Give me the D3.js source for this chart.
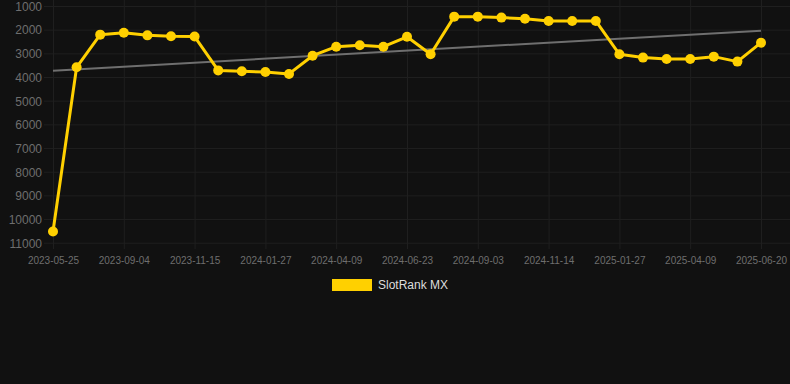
<!DOCTYPE html>
<html>
<head>
<meta charset="utf-8">
<script src="https://cdn.jsdelivr.net/npm/d3@7"></script>
<style>
  body { margin: 0; background: #111111; }
  .chart svg { display: block; }
  text { font-family: "Liberation Sans", Arial, sans-serif; }
</style>
</head>
<body>
<div class="chart"></div>
<script>
var svgWidth = 790;
var svgHeight = 384;

// dates of each point (only every third one is shown on the axis)
var dates = [
  "2023-05-25", "2023-06-28", "2023-08-01", "2023-09-04", "2023-09-28", "2023-10-22",
  "2023-11-15", "2023-12-09", "2024-01-03", "2024-01-27", "2024-02-20", "2024-03-16",
  "2024-04-09", "2024-05-04", "2024-05-29", "2024-06-23", "2024-07-17", "2024-08-10",
  "2024-09-03", "2024-09-27", "2024-10-21", "2024-11-14", "2024-12-09", "2025-01-02",
  "2025-01-27", "2025-02-20", "2025-03-16", "2025-04-09", "2025-05-03", "2025-05-27",
  "2025-06-20"
];
var ranks = [
  10530, 3590, 2210, 2130, 2240, 2280, 2290, 3720, 3760, 3790, 3870, 3100,
  2720, 2660, 2720, 2300, 3040, 1450, 1450, 1490, 1540, 1630, 1630, 1630,
  3040, 3180, 3240, 3240, 3140, 3350, 2550
];
var tickLabels = [
  "2023-05-25", "2023-09-04", "2023-11-15", "2024-01-27", "2024-04-09", "2024-06-23",
  "2024-09-03", "2024-11-14", "2025-01-27", "2025-04-09", "2025-06-20"
];
var yTicks = [1000, 2000, 3000, 4000, 5000, 6000, 7000, 8000, 9000, 10000, 11000];
var seriesName = "SlotRank MX";

var lineColor = "#ffd000";
var gridColor = "#1f1f1f";

var svg = d3.select(".chart")
  .append("svg")
  .attr("width", svgWidth)
  .attr("height", svgHeight);

svg.append("rect")
  .attr("width", svgWidth)
  .attr("height", svgHeight)
  .attr("fill", "#111111");

// scales (rank axis reversed: best rank on top)
var xScale = d3.scalePoint()
  .domain(dates)
  .range([53, 761]);

var yScale = d3.scaleLinear()
  .domain([1000, 11000])
  .range([6, 242.7]);

// horizontal grid + y labels
var yAxis = d3.axisLeft(yScale)
  .tickValues(yTicks)
  .tickSize(-(790 - 44))
  .tickPadding(2)
  .tickFormat(d => d);

svg.append("g")
  .attr("transform", "translate(44, 0)")
  .call(yAxis)
  .call(g => g.select(".domain").remove())
  .call(g => g.selectAll("line").attr("stroke", gridColor))
  .call(g => g.selectAll("text")
    .attr("fill", "#6e6e6e")
    .attr("font-size", 12)
    .attr("dy", "0.36em"));

// vertical grid + x labels
var xAxis = d3.axisBottom(xScale)
  .tickValues(tickLabels)
  .tickSize(249)
  .tickPadding(8);

svg.append("g")
  .call(xAxis)
  .call(g => g.select(".domain").remove())
  .call(g => g.selectAll("line").attr("stroke", gridColor))
  .call(g => g.selectAll("text")
    .attr("fill", "#6e6e6e")
    .attr("font-size", 10));

// linear trend of the ranks
var n = ranks.length;
var meanI = d3.mean(ranks, (d, i) => i);
var meanV = d3.mean(ranks);
var slope = d3.sum(ranks, (d, i) => (i - meanI) * (d - meanV)) /
  d3.sum(ranks, (d, i) => (i - meanI) * (i - meanI));
var trend = [0, n - 1].map(i => ({ date: dates[i], value: meanV + slope * (i - meanI) }));

svg.append("path")
  .datum(trend)
  .attr("fill", "none")
  .attr("stroke", "#6f6f6f")
  .attr("stroke-width", 2)
  .attr("d", d3.line().x(d => xScale(d.date)).y(d => yScale(d.value)));

// rank line
var points = dates.map((d, i) => ({ date: d, value: ranks[i] }));

svg.append("path")
  .datum(points)
  .attr("fill", "none")
  .attr("stroke", lineColor)
  .attr("stroke-width", 3)
  .attr("stroke-linejoin", "round")
  .attr("d", d3.line().x(d => xScale(d.date)).y(d => yScale(d.value)));

svg.selectAll("circle.pt")
  .data(points)
  .enter()
  .append("circle")
  .attr("class", "pt")
  .attr("cx", d => xScale(d.date))
  .attr("cy", d => yScale(d.value))
  .attr("r", 5)
  .attr("fill", lineColor);

// legend
var legend = svg.append("g").attr("transform", "translate(332, 279)");
legend.append("rect")
  .attr("width", 40)
  .attr("height", 12)
  .attr("fill", lineColor);
legend.append("text")
  .attr("x", 46)
  .attr("y", 10)
  .attr("fill", "#dddddd")
  .attr("font-size", 12)
  .text(seriesName);
</script>
</body>
</html>
